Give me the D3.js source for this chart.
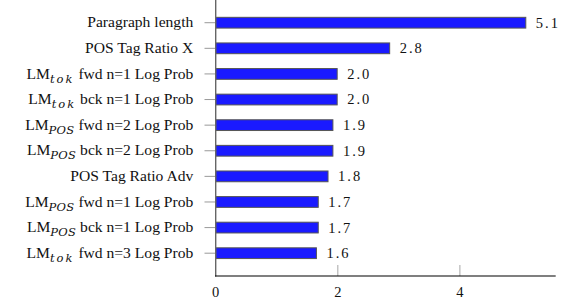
<!DOCTYPE html>
<html><head><meta charset="utf-8">
<script src="https://cdn.jsdelivr.net/npm/d3@7"></script>
<style>body{margin:0;background:#fff}svg{display:block}
.cm{font-family:"Liberation Serif","Times New Roman",serif}
.it{font-family:"DejaVu Serif",serif}
.tm{font-family:"Liberation Serif","Times New Roman",Times,serif}
</style>
</head><body>
<svg id="c" width="562" height="307"></svg>
<script>
// Data
const categories = [
  {main:"Paragraph length"},
  {main:"POS Tag Ratio X"},
  {pre:"LM", sub:"tok", rest:" fwd n=1 Log Prob"},
  {pre:"LM", sub:"tok", rest:" bck n=1 Log Prob"},
  {pre:"LM", sub:"POS", rest:" fwd n=2 Log Prob"},
  {pre:"LM", sub:"POS", rest:" bck n=2 Log Prob"},
  {main:"POS Tag Ratio Adv"},
  {pre:"LM", sub:"POS", rest:" fwd n=1 Log Prob"},
  {pre:"LM", sub:"POS", rest:" bck n=1 Log Prob"},
  {pre:"LM", sub:"tok", rest:" fwd n=3 Log Prob"}
];
const values = [5.08, 2.85, 1.99, 1.99, 1.92, 1.92, 1.84, 1.68, 1.68, 1.65];
const valueLabels = ["5.1","2.8","2.0","2.0","1.9","1.9","1.8","1.7","1.7","1.6"];
const xTicks = [0, 2, 4];

const svg = d3.select("#c");
const x = d3.scaleLinear().domain([0, 5.57]).range([215.7, 555.7]);
const y = d3.scaleBand().domain(d3.range(categories.length)).range([9.9, 266]).paddingInner(0.58).paddingOuter(0.29);

// x-axis ticks (inward)
const xa = svg.append("g").attr("transform","translate(0,276)");
xa.selectAll("line.t").data(xTicks.filter(d=>d>0)).join("line")
  .attr("x1",d=>x(d)).attr("x2",d=>x(d)).attr("y1",0).attr("y2",-11)
  .attr("stroke","#bbb").attr("stroke-width",1.3);
xa.selectAll("text").data(xTicks).join("text").attr("class","cm")
  .attr("x",d=>x(d)).attr("y",21.3).attr("text-anchor","middle")
  .attr("font-size",14.5).attr("fill","#111")
  .text(d=>d);

// bars
svg.selectAll("rect.bar").data(values).join("rect").attr("class","bar")
  .attr("x",x(0)).attr("y",(d,i)=>y(i)).attr("width",d=>x(d)-x(0)).attr("height",y.bandwidth())
  .attr("fill","#1a1aff").attr("stroke","#555").attr("stroke-width",1);

// value labels
svg.selectAll("text.val").data(values).join("text").attr("class","val cm")
  .attr("x",d=>x(d)+10).attr("y",(d,i)=>y(i)+y.bandwidth()/2).attr("dy","0.34em")
  .attr("font-size",14.5).attr("letter-spacing",2).attr("fill","#111")
  .text((d,i)=>valueLabels[i]);

// y ticks
svg.selectAll("line.yt").data(values).join("line").attr("class","yt")
  .attr("x1",204.5).attr("x2",x(0)).attr("y1",(d,i)=>y(i)+y.bandwidth()/2).attr("y2",(d,i)=>y(i)+y.bandwidth()/2)
  .attr("stroke","#999").attr("stroke-width",1);

// category labels
const lab = svg.selectAll("text.cat").data(categories).join("text").attr("class","cat tm")
  .attr("x",193.3).attr("y",(d,i)=>y(i)+y.bandwidth()/2).attr("dy","0.3em")
  .attr("text-anchor","end").attr("font-size",15.6).attr("fill","#111");
lab.each(function(d){
  const t = d3.select(this);
  if (d.main) { t.text(d.main); return; }
  t.append("tspan").text(d.pre);
  t.append("tspan").attr("class","it").attr("font-style","italic").attr("font-size",11.5)
    .attr("dy",4).attr("letter-spacing", d.sub==="tok" ? 2 : 0.3).text(d.sub);
  t.append("tspan").attr("dy",-4).text(d.rest);
});

// axes lines
svg.append("line").attr("x1",x(0)).attr("x2",x(0)).attr("y1",0).attr("y2",276.5).attr("stroke","#666").attr("stroke-width",1.4);
svg.append("line").attr("x1",x(0)-0.7).attr("x2",555.7).attr("y1",276).attr("y2",276).attr("stroke","#000").attr("stroke-width",1.2);
</script>
</body></html>
